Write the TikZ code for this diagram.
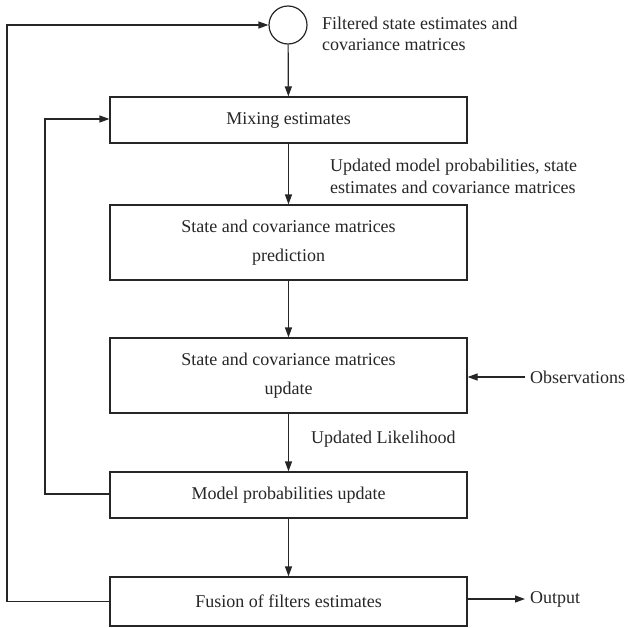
\documentclass[tikz,border=0pt]{standalone}
\usepackage{fontspec}
\setmainfont{Liberation Serif}
\usetikzlibrary{arrows.meta}
\begin{document}
\begin{tikzpicture}[x=1pt,y=-1pt,
  every node/.style={font=\fontsize{18}{22}\selectfont, text=black!85},
  box/.style={draw=black!85, line width=1.2pt, rectangle, minimum width=357pt, inner sep=0pt, align=center, font=\fontsize{18}{29}\selectfont},
  lbl/.style={anchor=west, align=left, inner sep=0pt, font=\fontsize{18}{21.5}\selectfont},
  conn/.style={draw=black!85, line width=1.2pt, -{Triangle[length=10pt,width=7pt]}}]
\useasboundingbox (0,0) rectangle (628,627);
\node[circle, draw=black!85, line width=1.2pt, minimum size=38pt, inner sep=0pt] (c) at (288,25) {};
\node[box, minimum height=46pt] (b1) at (288.5,120) {Mixing estimates};
\node[box, minimum height=75pt] (b2) at (288.5,242.5) {State and covariance matrices\\prediction};
\node[box, minimum height=75pt] (b3) at (288.5,375.5) {State and covariance matrices\\update};
\node[box, minimum height=46pt] (b4) at (288.5,495) {Model probabilities update};
\node[box, minimum height=49pt] (b5) at (288.5,601.5) {Fusion of filters estimates};
\node[lbl] (l1) at (322,34) {Filtered state estimates and\\covariance matrices};
\node[lbl] (l2) at (330,176.5) {Updated model probabilities, state\\estimates and covariance matrices};
\node[lbl] (l3) at (311,439) {Updated Likelihood};
\node[lbl] (obs) at (530,377) {Observations};
\node[lbl] (out) at (530,599) {Output};
\coordinate (o1) at (7,601.5);
\coordinate (o2) at (7,25);
\coordinate (i1) at (45,494);
\coordinate (i2) at (45,119);
\draw[conn] (c) -- (b1);
\draw[conn] (b1) -- (b2);
\draw[conn] (b2) -- (b3);
\draw[conn] (b3) -- (b4);
\draw[conn] (b4) -- (b5);
\draw[conn] (b5.west) -- (o1) -- (o2) -- (c.west);
\draw[conn] (b4.west |- i1) -- (i1) -- (i2) -- (b1.west |- i2);
\draw[conn, shorten <=5pt] (obs.west) -- (b3.east |- obs.west);
\draw[conn, shorten >=5pt] (b5.east |- out) -- (out.west);
\end{tikzpicture}
\end{document}
